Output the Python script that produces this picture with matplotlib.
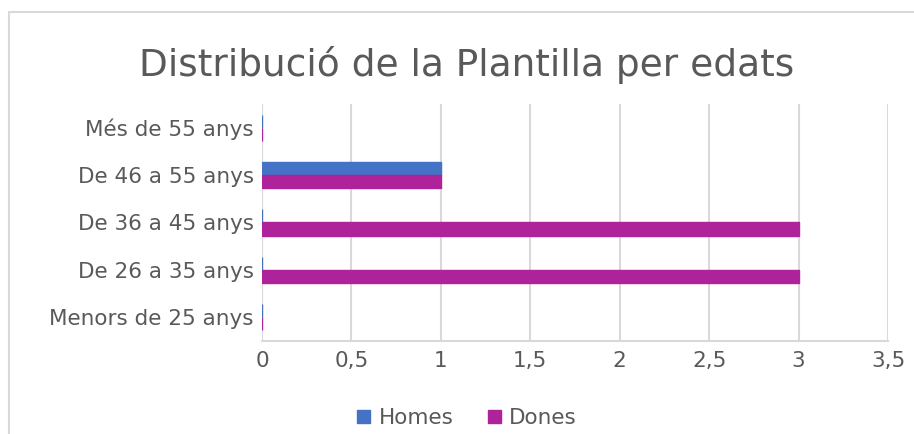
import numpy as np
import matplotlib
matplotlib.use('Agg')
import matplotlib.pyplot as plt
from matplotlib.patches import Rectangle

# Data
categories = ['Menors de 25 anys', 'De 26 a 35 anys', 'De 36 a 45 anys',
              'De 46 a 55 anys', 'Més de 55 anys']
homes = [0, 0, 0, 1, 0]
dones = [0, 3, 3, 1, 0]
xticks = [0, 0.5, 1, 1.5, 2, 2.5, 3, 3.5]
xtick_labels = ['0', '0,5', '1', '1,5', '2', '2,5', '3', '3,5']

BLUE = '#4472C4'
PURPLE = '#AE2399'
TEXT = '#595959'
GRID = '#D9D9D9'

fig = plt.figure(figsize=(9.14, 4.34), dpi=100)
ax = fig.add_axes([262 / 914, 1 - 341 / 434, (888 - 262) / 914, (341 - 104) / 434])

# outer chart border (only top and left visible in the crop)
fig.patches.append(Rectangle((9 / 914, -0.1), 1.2, 1 - 12 / 434 + 0.1,
                             transform=fig.transFigure, fill=False,
                             edgecolor=GRID, linewidth=1.5))

y = np.arange(len(categories))
h = 0.275
ax.barh(y + h / 2, homes, height=h, color=BLUE, edgecolor=BLUE, linewidth=1,
        label='Homes', zorder=3)
ax.barh(y - h / 2, dones, height=h, color=PURPLE, edgecolor=PURPLE, linewidth=1,
        label='Dones', zorder=3)

ax.set_xlim(0, 3.5)
ax.set_ylim(-0.5, len(categories) - 0.5)
ax.set_xticks(xticks)
ax.set_xticklabels(xtick_labels)
ax.set_yticks(y)
ax.set_yticklabels(categories)
ax.tick_params(axis='both', length=0, labelsize=15.5, colors=TEXT)
ax.tick_params(axis='x', pad=7)
ax.tick_params(axis='y', pad=6)

ax.grid(axis='x', color=GRID, linewidth=1.5, zorder=0)
for s in ['top', 'right', 'left']:
    ax.spines[s].set_visible(False)
ax.spines['bottom'].set_color(GRID)
ax.spines['bottom'].set_linewidth(1.5)

fig.text(467 / 914, 1 - 65 / 434, 'Distribució de la Plantilla per edats',
         ha='center', va='center', fontsize=27, color=TEXT)

fig.legend(loc='center', bbox_to_anchor=(467 / 914, 1 - 418 / 434), ncol=2,
           frameon=False, fontsize=15.5, labelcolor=TEXT, handlelength=0.6,
           handleheight=0.6, handletextpad=0.4, columnspacing=1.6)

fig.savefig('out.png', dpi=100)
